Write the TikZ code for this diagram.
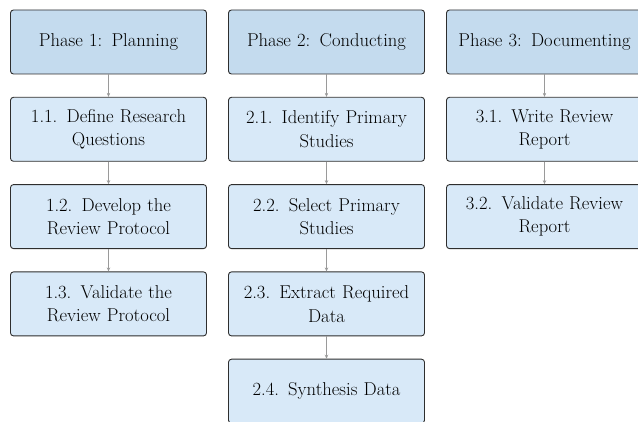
\documentclass[tikz,border=0pt]{standalone}
\usetikzlibrary{arrows.meta}
\definecolor{phasefill}{HTML}{C4DBEE}
\definecolor{stepfill}{HTML}{D8E9F8}
\definecolor{boxline}{HTML}{2E2E2E}
\definecolor{arrowgray}{HTML}{9A9A9A}
\tikzset{
  box/.style={draw=boxline, line width=0.9pt, rounded corners=3pt,
    minimum width=196pt, minimum height=64pt, inner sep=0pt,
    align=center, text width=184pt,
    font=\fontsize{18.6}{23.5}\selectfont},
  phasebox/.style={box, fill=phasefill},
  stepbox/.style={box, fill=stepfill},
  link/.style={draw=arrowgray, line width=0.9pt, -{Stealth[length=4pt,width=3.5pt]}}
}
\begin{document}
\begin{tikzpicture}[x=1pt,y=1pt]
  \useasboundingbox (0,0) rectangle (638,-422);
  \clip (0,0) rectangle (638,-422);
  % phase headers
  \node[phasebox] (p1) at (108.5,-42) {Phase 1: Planning};
  \node[phasebox] (p2) at (326.5,-42) {Phase 2: Conducting};
  \node[phasebox] (p3) at (544.5,-42) {Phase 3: Documenting};
  % planning steps
  \node[stepbox] (s11) at (108.5,-129.3) {1.1. Define Research\\Questions};
  \node[stepbox] (s12) at (108.5,-216.6) {1.2. Develop the\\Review Protocol};
  \node[stepbox] (s13) at (108.5,-303.9) {1.3. Validate the\\Review Protocol};
  % conducting steps
  \node[stepbox] (s21) at (326.5,-129.3) {2.1. Identify Primary\\Studies};
  \node[stepbox] (s22) at (326.5,-216.6) {2.2. Select Primary\\Studies};
  \node[stepbox] (s23) at (326.5,-303.9) {2.3. Extract Required\\Data};
  \node[stepbox] (s24) at (326.5,-391.2) {2.4. Synthesis Data};
  % documenting steps
  \node[stepbox] (s31) at (544.5,-129.3) {3.1. Write Review\\Report};
  \node[stepbox] (s32) at (544.5,-216.6) {3.2. Validate Review\\Report};
  % connectors
  \draw[link] (p1) -- (s11);
  \draw[link] (s11) -- (s12);
  \draw[link] (s12) -- (s13);
  \draw[link] (p2) -- (s21);
  \draw[link] (s21) -- (s22);
  \draw[link] (s22) -- (s23);
  \draw[link] (s23) -- (s24);
  \draw[link] (p3) -- (s31);
  \draw[link] (s31) -- (s32);
\end{tikzpicture}
\end{document}
